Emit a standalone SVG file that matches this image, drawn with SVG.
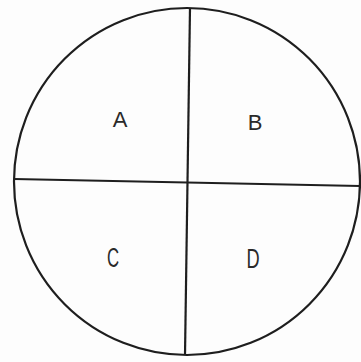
<svg xmlns="http://www.w3.org/2000/svg" width="361" height="362" viewBox="0 0 361 362">
<style>
.ln{stroke:#1e1e1e;stroke-width:2.2;fill:none}
.lb{font-family:"Liberation Sans",Arial,sans-serif;fill:#2a2a2a;text-anchor:middle}
</style>
<rect width="361" height="362" fill="#fdfdfd"/>
<g id="circle"><ellipse class="ln" cx="187" cy="181.5" rx="173" ry="173.5" stroke-width="2.6"/></g>
<g id="connectors">
<line class="ln" x1="190" y1="8" x2="185" y2="355" stroke-width="1.8"/>
<line class="ln" x1="14" y1="179" x2="360" y2="186"/>
</g>
<g id="A"><text class="lb" x="120" y="127" font-size="22">A</text></g>
<g id="B"><text class="lb" x="255" y="130" font-size="22">B</text></g>
<g id="C"><text class="lb" font-size="28" transform="translate(113 267) scale(0.6 1)">C</text></g>
<g id="D"><text class="lb" font-size="28" transform="translate(253 268) scale(0.65 1)">D</text></g>
</svg>
